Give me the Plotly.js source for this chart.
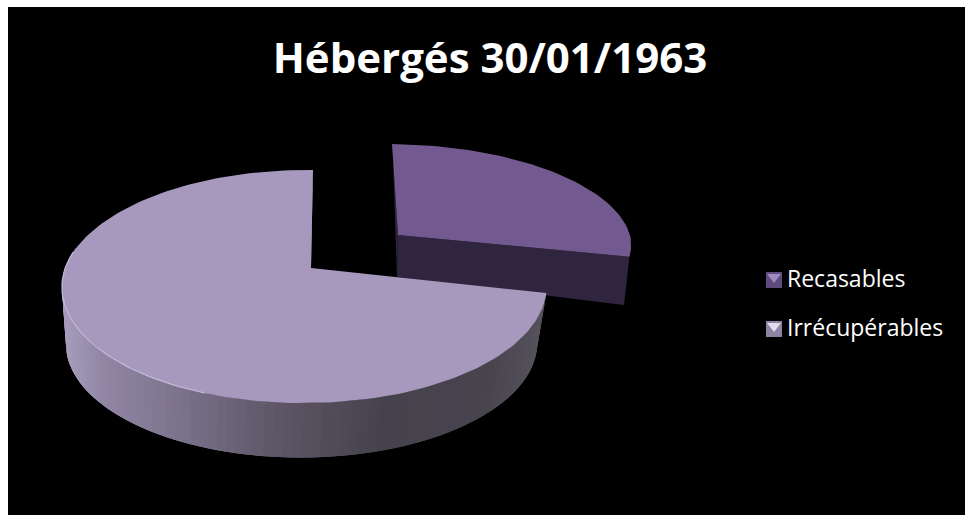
<!DOCTYPE html>
<html><head><meta charset="utf-8">
<script src="https://cdn.plot.ly/plotly-3.0.1.min.js"></script>
<style>html,body{margin:0;padding:0;background:#fff}</style></head>
<body><div id="chart" style="width:965px;height:515px"></div>
<script>
const categories = ["Recasables", "Irrécupérables"];
const values = [28.5, 71.5];
const sliceColors = ["#72598f", "#a798bd"];
const wallColors = ["#30253f", "#8a8199"];
const titleText = "Hébergés 30/01/1963";

// view of the tilted disc (plot coordinates)
const bigTop = {x0:311, y0:268, rx:239.2, ry:113.6, k:0.159, m:0.027, shear:2};
const bigLow = {x0:308, y0:325, rx:232.5, ry:111.5, k:0.159, m:0.027, shear:2};
const outTop = {x0:398, y0:235, rx:238, ry:100, k:0.10, m:0.026, shear:-6};
const outLow = {x0:397, y0:277, rx:233.5, ry:129, k:0.10, m:0.026, shear:-4};

const total = values.reduce((a,b)=>a+b,0);
const startDeg = 90;                                   // first slice starts at 12 o'clock
const splitDeg = startDeg - 360*values[0]/total;        // going clockwise
const endDeg = startDeg - 360;

function pt(v,deg){
  const t=deg*Math.PI/180, c=Math.cos(t), s=Math.sin(t), d=1+v.k*s+v.m*c;
  return [v.x0+v.rx*c/d+v.shear*Math.max(s,0), v.y0-v.ry*s/d];
}
function arc(v,a,b,n){
  const r=[]; for(let i=0;i<=n;i++) r.push(pt(v,a+(b-a)*i/n)); return r;
}
function poly(points,color){
  return {type:"scatter",mode:"lines",x:points.map(p=>p[0]),y:points.map(p=>p[1]),fill:"toself",
    fillcolor:color,line:{color:color,width:0},hoverinfo:"skip",showlegend:false};
}
// side shading stops: position along x → colour
const rimStops=[[62,[168,158,190]],[110,[146,136,166]],[200,[122,113,138]],[300,[92,86,102]],[400,[70,66,77]],[500,[72,68,78]],[548,[86,82,92]]];
function rimColor(x){
  for(let i=1;i<rimStops.length;i++){
    if(x<=rimStops[i][0]){
      const a=rimStops[i-1],b=rimStops[i],f=Math.max(0,(x-a[0])/(b[0]-a[0]));
      return "rgb("+a[1].map((c,j)=>Math.round(c+(b[1][j]-c)*f)).join(",")+")";
    }
  }
  return "rgb("+rimStops[rimStops.length-1][1].join(",")+")";
}
const traces=[];
// exploded slice: walls then top
const aO=pt(outTop,startDeg), lO=pt(outLow,startDeg);
traces.push(poly([[outTop.x0,outTop.y0],aO,lO,[outLow.x0,outLow.y0]],wallColors[0]));
traces.push(poly([[outTop.x0,outTop.y0],pt(outTop,splitDeg),pt(outLow,splitDeg),[outLow.x0,outLow.y0]],wallColors[0]));
traces.push(poly([[outTop.x0,outTop.y0]].concat(arc(outTop,startDeg,splitDeg,60)),sliceColors[0]));
// big slice: back wall, rim strips, top
traces.push(poly([[bigTop.x0,bigTop.y0],pt(bigTop,endDeg),pt(bigLow,endDeg),[bigLow.x0,bigLow.y0]],wallColors[1]));
const rimFrom=splitDeg, rimTo=-190, N=90;
// strips are painted from the right end to the left end, each one reaching
// under its neighbour, so that no seam of the black background shows through
for(let i=N-1;i>=0;i--){
  const a=rimFrom+(rimTo-rimFrom)*i/N, b=rimFrom+(rimTo-rimFrom)*(i+1)/N;
  const e=rimFrom+(rimTo-rimFrom)*Math.min(i+3,N)/N;
  const p2=arc(bigTop,a,e,3),p3=arc(bigLow,e,a,3);
  const mid=pt(bigTop,(a+b)/2);
  traces.push(poly(p2.concat(p3),rimColor(mid[0])));
}
traces.push(poly([[bigTop.x0,bigTop.y0]].concat(arc(bigTop,splitDeg,endDeg,160)),sliceColors[1]));
// light bevel on the front-left of the top edge
const bevel=arc(bigTop,-112,-188,50);
traces.push({type:"scatter",mode:"lines",x:bevel.map(p=>p[0]),y:bevel.map(p=>p[1]),
  line:{color:"#c3bad6",width:1.2},hoverinfo:"skip",showlegend:false});

// legend: keys and labels
const legendX=[774,774], legendY=[280,329], labelX=[787,787], labelY=[281,330];
const keyDark=["#5f4a7d","#8e83a3"], keyLight=["#a08abf","#e2dcef"];
traces.push({type:"scatter",mode:"markers",x:legendX,y:legendY,
  marker:{symbol:"square",size:16,color:keyDark},hoverinfo:"skip",showlegend:false});
traces.push({type:"scatter",mode:"markers",x:legendX,y:legendY.map(y=>y-3),
  marker:{symbol:"triangle-down",size:12,color:keyLight},hoverinfo:"skip",showlegend:false});
traces.push({type:"scatter",mode:"text",x:labelX,y:labelY,text:categories,textposition:"middle right",
  textfont:{family:"'Open Sans', sans-serif",size:23,color:"#ffffff"},hoverinfo:"skip",showlegend:false});

const hidden={visible:false,fixedrange:true};
Plotly.newPlot("chart",traces,{
  width:965,height:515,
  margin:{l:8,t:7,r:0,b:0},
  paper_bgcolor:"#ffffff",plot_bgcolor:"#000000",
  showlegend:false,
  title:{text:"<b>"+titleText+"</b>",font:{family:"'Open Sans', sans-serif",size:42,color:"#ffffff"},
    x:490/965,xanchor:"center",y:1-58/515,yanchor:"middle"},
  xaxis:Object.assign({range:[8,965]},hidden),
  yaxis:Object.assign({range:[515,7]},hidden)
},{displayModeBar:false,staticPlot:true});
</script></body></html>
